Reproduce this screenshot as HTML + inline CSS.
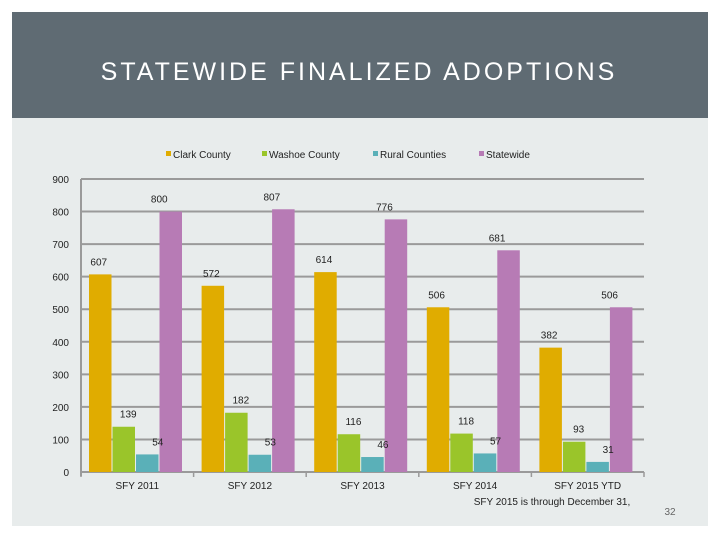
<!DOCTYPE html>
<html><head><meta charset="utf-8"><style>
html,body{margin:0;padding:0;background:#fff;width:720px;height:540px;overflow:hidden}
svg text{font-family:"Liberation Sans",sans-serif}
</style></head><body>
<svg width="720" height="540">
<rect x="12" y="12" width="696" height="514" fill="#e8ecec"/>
<rect x="12" y="12" width="696" height="106" fill="#5f6b73"/>
<text x="359" y="80" text-anchor="middle" fill="#fff" font-size="25" letter-spacing="3">STATEWIDE FINALIZED ADOPTIONS</text>
<g id="legend"></g>
<g id="chart"></g>
<g id="labels"></g>
<text x="552" y="505" text-anchor="middle" font-size="10" fill="#222">SFY 2015 is through December 31,</text>
<text x="670" y="515" text-anchor="middle" font-size="10" fill="#666">32</text>
</svg>
<script>
const categories=["SFY 2011","SFY 2012","SFY 2013","SFY 2014","SFY 2015   YTD"];
const seriesNames=["Clark County","Washoe County","Rural Counties","Statewide"];
const clark=[607,572,614,506,382];
const washoe=[139,182,116,118,93];
const rural=[54,53,46,57,31];
const statewide=[800,807,776,681,506];
const yTicks=[0,100,200,300,400,500,600,700,800,900];
const colors=["#e0ac00","#9ac52a","#5ab0b8","#b77bb5"];
const series=[clark,washoe,rural,statewide];
const NS="http://www.w3.org/2000/svg";
const x0=81,x1=644,yBase=472,yTop=179,yMax=900;
const y=v=>yBase-(v/yMax)*(yBase-yTop);
const cw=(x1-x0)/categories.length;
const catX=i=>x0+i*cw;
const chart=document.getElementById('chart');
const labels=document.getElementById('labels');
function mk(tag,attrs,parent){const e=document.createElementNS(NS,tag);for(const k in attrs)e.setAttribute(k,attrs[k]);parent.appendChild(e);return e;}
yTicks.forEach(t=>{
  const l=mk('line',{x1:x0,x2:x1,y1:y(t),y2:y(t),stroke:'#9a9a9a','stroke-width':2},chart);
  
  
  const tx=mk('text',{x:x0-12,y:y(t)+4,'text-anchor':'end','font-size':10,fill:'#222'},chart);
  tx.textContent=t;
  
  
});
const ax=mk('line',{x1:x0,x2:x0,y1:yTop,y2:yBase+4,stroke:'#9a9a9a','stroke-width':2},chart);


for(let i=0;i<=categories.length;i++){
  const tk=mk('line',{x1:catX(i),x2:catX(i),y1:yBase,y2:yBase+5,stroke:'#9a9a9a','stroke-width':1.5},chart);
  
  
}
const bw=23.5;
const dx=[-2,4,10,-12];
categories.forEach((c,i)=>{
  const gx=catX(i)+8;
  series.forEach((s,j)=>{
    const bx=gx+j*bw;
    const r=mk('rect',{x:bx,y:y(s[i]),width:bw-1,height:yBase-y(s[i]),fill:colors[j]},chart);
    
    
    const lb=mk('text',{x:bx+bw/2+dx[j],y:y(s[i])-9,'text-anchor':'middle','font-size':10,fill:'#222'},labels);
    lb.textContent=s[i];
    
    
  });
  const xl=mk('text',{x:catX(i)+cw/2,y:489,'text-anchor':'middle','font-size':10,fill:'#222'},chart);
  xl.textContent=c;
  
  
});
const legend=document.getElementById('legend');
const lx=[166,262,373,479];
seriesNames.forEach((n,j)=>{
  const r=mk('rect',{x:lx[j],y:151,width:5,height:5,fill:colors[j]},legend);
  
  
  const t=mk('text',{x:lx[j]+7,y:158,'font-size':10,fill:'#222'},legend);
  t.textContent=n;
  
  
});
</script>
</body></html>
